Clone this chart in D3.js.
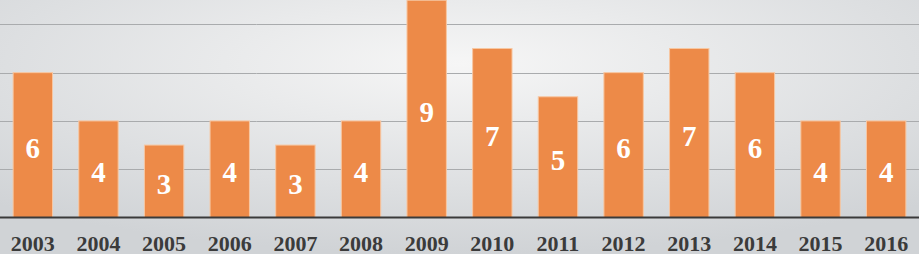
<!DOCTYPE html>
<html>
<head>
<meta charset="utf-8">
<script src="https://cdn.jsdelivr.net/npm/d3@7"></script>
<style>
  html, body { margin: 0; padding: 0; background: #e2e3e5; }
  svg { display: block; }
</style>
</head>
<body>
<svg id="chart" width="919" height="254"></svg>
<script>
var years = ['2003', '2004', '2005', '2006', '2007', '2008', '2009', '2010', '2011', '2012', '2013', '2014', '2015', '2016'];
var counts = [6, 4, 3, 4, 3, 4, 9, 7, 5, 6, 7, 6, 4, 4];
var gridValues = [2, 4, 6, 8];

var svg = d3.select('#chart'),
    width = +svg.attr('width'),
    height = +svg.attr('height'),
    baseY = 217.5;

// background gradient, lighter in the middle
var defs = svg.append('defs');
var grad = defs.append('radialGradient')
    .attr('id', 'bg')
    .attr('cx', '50%').attr('cy', '25%')
    .attr('r', '75%');
grad.append('stop').attr('offset', '0%').attr('stop-color', '#f6f6f6');
grad.append('stop').attr('offset', '100%').attr('stop-color', '#d0d3d6');
svg.append('rect')
    .attr('width', width)
    .attr('height', height)
    .attr('fill', 'url(#bg)');

var x = d3.scaleBand()
    .domain(years)
    .range([0, width])
    .paddingInner(0.4)
    .paddingOuter(0.2);

var y = d3.scaleLinear()
    .domain([0, 9])
    .range([baseY, 0.2]);

// grid lines
svg.append('g').attr('class', 'grid')
    .selectAll('line')
    .data(gridValues)
    .enter().append('line')
    .attr('x1', 0)
    .attr('x2', width)
    .attr('y1', function (d) { return Math.round(y(d)) + 0.5; })
    .attr('y2', function (d) { return Math.round(y(d)) + 0.5; })
    .attr('stroke', '#a9abad')
    .attr('stroke-width', 1);

// bars
var bars = svg.append('g').attr('class', 'bars')
    .selectAll('g')
    .data(counts)
    .enter().append('g');

bars.append('rect')
    .attr('x', function (d, i) { return x(years[i]); })
    .attr('y', function (d) { return y(d); })
    .attr('width', x.bandwidth())
    .attr('height', function (d) { return baseY - y(d); })
    .attr('fill', '#ed8a48')
    .attr('stroke', '#f7c7a2')
    .attr('stroke-width', 1);

bars.append('text')
    .attr('x', function (d, i) { return x(years[i]) + x.bandwidth() / 2; })
    .attr('y', function (d) { return (y(d) + baseY) / 2 + 13; })
    .attr('text-anchor', 'middle')
    .attr('font-family', '"Liberation Serif", "DejaVu Serif", serif')
    .attr('font-weight', 'bold')
    .attr('font-size', 29)
    .attr('fill', '#ffffff')
    .text(function (d) { return d; });

// x axis
var xAxis = svg.append('g')
    .attr('transform', 'translate(0,' + baseY + ')')
    .call(d3.axisBottom(x).tickSize(0).tickPadding(18));
xAxis.select('.domain')
    .attr('d', 'M0,0H' + width)
    .attr('stroke', '#3a3a3a')
    .attr('stroke-width', 2.2);
xAxis.selectAll('text')
    .attr('font-family', '"Liberation Serif", "DejaVu Serif", serif')
    .attr('font-weight', 'bold')
    .attr('font-size', 22)
    .attr('fill', '#3b3b3b');
</script>
</body>
</html>
